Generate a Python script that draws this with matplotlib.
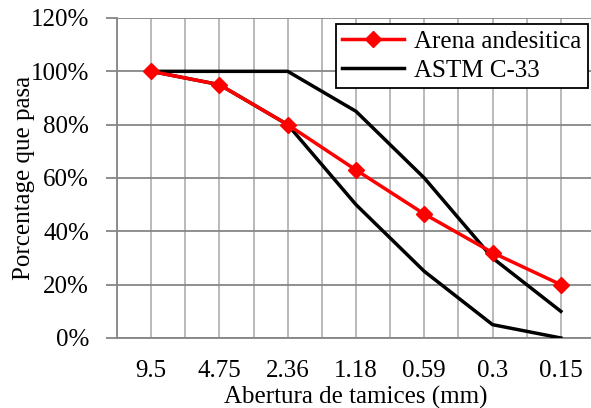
import matplotlib
matplotlib.use("Agg")
import matplotlib.pyplot as plt
from matplotlib.ticker import MultipleLocator, FuncFormatter

# Data
tamices = ["9.5", "4.75", "2.36", "1.18", "0.59", "0.3", "0.15"]
arena = [100, 95, 80, 63, 46.5, 32, 20]
astm_sup = [100, 100, 100, 85, 60, 30, 10]
astm_inf = [100, 95, 80, 50, 25, 5, 0]

plt.rcParams['font.family'] = ['Liberation Serif', 'DejaVu Serif']

fig = plt.figure(figsize=(5.91, 4.08), dpi=100)
ax = fig.add_axes([117 / 591, 70 / 408, 478 / 591, 320 / 408])

x = list(range(len(tamices)))

ax.plot(x, arena, color='red', lw=2.5, marker='D', markersize=8, zorder=4,
        label='Arena andesitica')
ax.plot(x, astm_sup, color='black', lw=2.5, zorder=3, label='ASTM C-33')
ax.plot(x, astm_inf, color='black', lw=2.5, zorder=3)

ax.set_xlim(-0.5, 6.5)
ax.set_ylim(0, 120)
ax.set_xticks(x)
ax.set_xticklabels(tamices)
ax.xaxis.set_minor_locator(MultipleLocator(0.5))
ax.yaxis.set_major_locator(MultipleLocator(20))
ax.yaxis.set_major_formatter(FuncFormatter(lambda v, p: f"{v:.0f}%"))

# grid: vertical lighter, horizontal darker
ax.grid(True, axis='x', which='both', color='#b4b4b4', lw=1.3)
ax.grid(True, axis='y', which='major', color='#868686', lw=1.3)
ax.set_axisbelow(True)

for s in ['top', 'right']:
    ax.spines[s].set_visible(False)
for s in ['left', 'bottom']:
    ax.spines[s].set_color('#868686')
    ax.spines[s].set_linewidth(1.3)

ax.tick_params(axis='y', length=8, width=1.3, color='#868686', labelsize=18, pad=12)
ax.tick_params(axis='x', which='both', length=0, labelsize=18, pad=16)

ax.set_xlabel("Abertura de tamices (mm)", fontsize=18, labelpad=3)
ax.set_ylabel("Porcentage que pasa", fontsize=18, labelpad=-3)

leg = ax.legend(loc='upper right', bbox_to_anchor=(0.985, 0.98), fontsize=18,
                frameon=True, fancybox=False, edgecolor='black',
                handlelength=2.5, borderpad=0.25, labelspacing=0.25,
                handletextpad=0.4, borderaxespad=0)
leg.get_frame().set_linewidth(1.3)
leg.get_frame().set_alpha(1)

fig.savefig("out.png", dpi=100)
